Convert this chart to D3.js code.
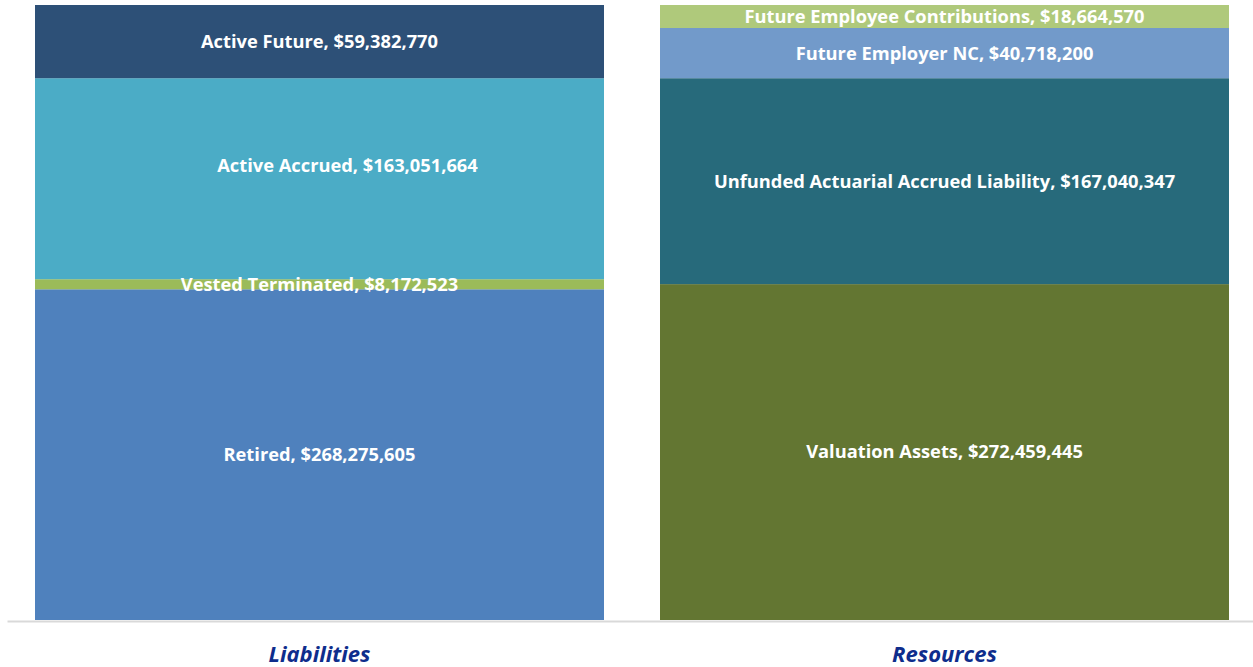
<!DOCTYPE html>
<html>
<head>
<meta charset="utf-8">
<script src="https://cdn.jsdelivr.net/npm/d3@7"></script>
<style>
  html, body { margin: 0; padding: 0; background: #fff; }
  svg { display: block; }
</style>
</head>
<body>
<svg id="chart"></svg>
<script>
// stacks, bottom to top
const groups = ["Liabilities", "Resources"]
const liabilityNames = ["Retired", "Vested Terminated", "Active Accrued", "Active Future"]
const liabilityValues = [268275605, 8172523, 163051664, 59382770]
const liabilityColors = ["#4f81bd", "#9bbb59", "#4bacc6", "#2d5077"]
const resourceNames = ["Valuation Assets", "Unfunded Actuarial Accrued Liability", "Future Employer NC", "Future Employee Contributions"]
const resourceValues = [272459445, 167040347, 40718200, 18664570]
const resourceColors = ["#637632", "#276a7b", "#729aca", "#afc97b"]

const width = 1253, height = 667
const margin = { top: 5, right: -4, bottom: 47, left: 7 }

const svg = d3.select("#chart")
    .attr("width", width)
    .attr("height", height)
    .attr("viewBox", `0 0 ${width} ${height}`)

// build stacked segments
const segs = []
function addStack(group, names, values, colors) {
  let y0 = 0
  names.forEach((n, i) => {
    segs.push({ group, name: n, value: values[i], y0, y1: y0 + values[i], color: colors[i] })
    y0 += values[i]
  })
}
addStack(groups[0], liabilityNames, liabilityValues, liabilityColors)
addStack(groups[1], resourceNames, resourceValues, resourceColors)

const x = d3.scaleBand()
    .domain(groups)
    .range([margin.left, width - margin.right])
    .paddingInner(0.0896)
    .paddingOuter(0.0448)

const y = d3.scaleLinear()
    .domain([0, d3.max(segs, d => d.y1)])
    .range([height - margin.bottom, margin.top])

svg.append("g")
  .selectAll("rect")
  .data(segs)
  .join("rect")
    .attr("x", d => x(d.group))
    .attr("width", x.bandwidth())
    .attr("y", d => y(d.y1))
    .attr("height", d => y(d.y0) - y(d.y1))
    .attr("fill", d => d.color)

const fmt = d3.format("$,")
// excel had dragged this one label off-centre
const labelNudge = { "Active Accrued": [28, -13] }

svg.append("g")
    .attr("fill", "#fff")
    .attr("text-anchor", "middle")
    .style("font", "bold 18.3px 'Open Sans', sans-serif")
  .selectAll("text")
  .data(segs)
  .join("text")
    .attr("x", d => x(d.group) + x.bandwidth() / 2 + (labelNudge[d.name] || [0, 0])[0])
    .attr("y", d => (y(d.y0) + y(d.y1)) / 2 + (labelNudge[d.name] || [0, 0])[1])
    .attr("dy", "0.35em")
    .text(d => `${d.name}, ${fmt(d.value)}`)

// x axis
svg.append("g")
    .attr("transform", `translate(0,${height - margin.bottom + 1})`)
    .call(d3.axisBottom(x).tickSize(0).tickPadding(25))
    .call(g => g.select(".domain").attr("stroke", "#d9d9d9").attr("stroke-width", 2))
    .call(g => g.selectAll("text")
        .attr("fill", "#0e2d8c")
        .style("font", "italic bold 22px 'Open Sans', sans-serif"))
</script>
</body>
</html>
